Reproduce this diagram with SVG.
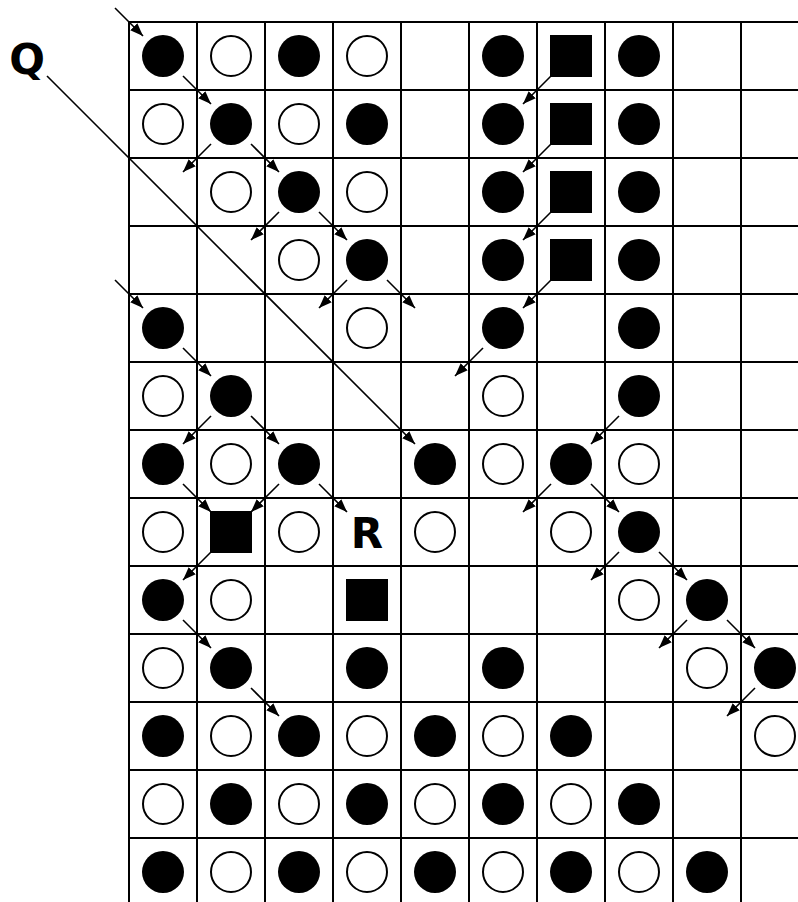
<svg xmlns="http://www.w3.org/2000/svg" width="798" height="902" viewBox="0 0 798 902">
<style>
.grid line{stroke:#000;stroke-width:2}
.f{fill:#000}
.o{fill:#fff;stroke:#000;stroke-width:2}
.sq{fill:#000}
.lbl{font-family:"DejaVu Sans","Liberation Sans",sans-serif;font-weight:bold;font-size:42px;fill:#000;text-anchor:middle}
.conn line{stroke:#000;stroke-width:1.6;marker-end:url(#ah)}
</style>
<defs>
<marker id="ah" viewBox="0 0 13 10" refX="13" refY="5" markerWidth="13" markerHeight="10" markerUnits="userSpaceOnUse" orient="auto">
<path d="M0,0 L13,5 L0,10 z" fill="#000"/>
</marker>
</defs>
<rect width="798" height="902" fill="#fff"/>
<g id="grid" class="grid">
<line x1="129" y1="22" x2="129" y2="902"/>
<line x1="197" y1="22" x2="197" y2="902"/>
<line x1="265" y1="22" x2="265" y2="902"/>
<line x1="333" y1="22" x2="333" y2="902"/>
<line x1="401" y1="22" x2="401" y2="902"/>
<line x1="469" y1="22" x2="469" y2="902"/>
<line x1="537" y1="22" x2="537" y2="902"/>
<line x1="605" y1="22" x2="605" y2="902"/>
<line x1="673" y1="22" x2="673" y2="902"/>
<line x1="741" y1="22" x2="741" y2="902"/>
<line x1="128" y1="22" x2="798" y2="22"/>
<line x1="128" y1="90" x2="798" y2="90"/>
<line x1="128" y1="158" x2="798" y2="158"/>
<line x1="128" y1="226" x2="798" y2="226"/>
<line x1="128" y1="294" x2="798" y2="294"/>
<line x1="128" y1="362" x2="798" y2="362"/>
<line x1="128" y1="430" x2="798" y2="430"/>
<line x1="128" y1="498" x2="798" y2="498"/>
<line x1="128" y1="566" x2="798" y2="566"/>
<line x1="128" y1="634" x2="798" y2="634"/>
<line x1="128" y1="702" x2="798" y2="702"/>
<line x1="128" y1="770" x2="798" y2="770"/>
<line x1="128" y1="838" x2="798" y2="838"/>
</g>
<!-- row 0 -->
<g id="r0c0"><circle class="f" cx="163" cy="56" r="21"/></g>
<g id="r0c1"><circle class="o" cx="231" cy="56" r="20"/></g>
<g id="r0c2"><circle class="f" cx="299" cy="56" r="21"/></g>
<g id="r0c3"><circle class="o" cx="367" cy="56" r="20"/></g>
<g id="r0c5"><circle class="f" cx="503" cy="56" r="21"/></g>
<g id="r0c6"><rect class="sq" x="550" y="35" width="42" height="42"/></g>
<g id="r0c7"><circle class="f" cx="639" cy="56" r="21"/></g>
<!-- row 1 -->
<g id="r1c0"><circle class="o" cx="163" cy="124" r="20"/></g>
<g id="r1c1"><circle class="f" cx="231" cy="124" r="21"/></g>
<g id="r1c2"><circle class="o" cx="299" cy="124" r="20"/></g>
<g id="r1c3"><circle class="f" cx="367" cy="124" r="21"/></g>
<g id="r1c5"><circle class="f" cx="503" cy="124" r="21"/></g>
<g id="r1c6"><rect class="sq" x="550" y="103" width="42" height="42"/></g>
<g id="r1c7"><circle class="f" cx="639" cy="124" r="21"/></g>
<!-- row 2 -->
<g id="r2c1"><circle class="o" cx="231" cy="192" r="20"/></g>
<g id="r2c2"><circle class="f" cx="299" cy="192" r="21"/></g>
<g id="r2c3"><circle class="o" cx="367" cy="192" r="20"/></g>
<g id="r2c5"><circle class="f" cx="503" cy="192" r="21"/></g>
<g id="r2c6"><rect class="sq" x="550" y="171" width="42" height="42"/></g>
<g id="r2c7"><circle class="f" cx="639" cy="192" r="21"/></g>
<!-- row 3 -->
<g id="r3c2"><circle class="o" cx="299" cy="260" r="20"/></g>
<g id="r3c3"><circle class="f" cx="367" cy="260" r="21"/></g>
<g id="r3c5"><circle class="f" cx="503" cy="260" r="21"/></g>
<g id="r3c6"><rect class="sq" x="550" y="239" width="42" height="42"/></g>
<g id="r3c7"><circle class="f" cx="639" cy="260" r="21"/></g>
<!-- row 4 -->
<g id="r4c0"><circle class="f" cx="163" cy="328" r="21"/></g>
<g id="r4c3"><circle class="o" cx="367" cy="328" r="20"/></g>
<g id="r4c5"><circle class="f" cx="503" cy="328" r="21"/></g>
<g id="r4c7"><circle class="f" cx="639" cy="328" r="21"/></g>
<!-- row 5 -->
<g id="r5c0"><circle class="o" cx="163" cy="396" r="20"/></g>
<g id="r5c1"><circle class="f" cx="231" cy="396" r="21"/></g>
<g id="r5c5"><circle class="o" cx="503" cy="396" r="20"/></g>
<g id="r5c7"><circle class="f" cx="639" cy="396" r="21"/></g>
<!-- row 6 -->
<g id="r6c0"><circle class="f" cx="163" cy="464" r="21"/></g>
<g id="r6c1"><circle class="o" cx="231" cy="464" r="20"/></g>
<g id="r6c2"><circle class="f" cx="299" cy="464" r="21"/></g>
<g id="r6c4"><circle class="f" cx="435" cy="464" r="21"/></g>
<g id="r6c5"><circle class="o" cx="503" cy="464" r="20"/></g>
<g id="r6c6"><circle class="f" cx="571" cy="464" r="21"/></g>
<g id="r6c7"><circle class="o" cx="639" cy="464" r="20"/></g>
<!-- row 7 -->
<g id="r7c0"><circle class="o" cx="163" cy="532" r="20"/></g>
<g id="r7c1"><rect class="sq" x="210" y="511" width="42" height="42"/></g>
<g id="r7c2"><circle class="o" cx="299" cy="532" r="20"/></g>
<g id="r7c3"><text class="lbl" x="367" y="548">R</text></g>
<g id="r7c4"><circle class="o" cx="435" cy="532" r="20"/></g>
<g id="r7c6"><circle class="o" cx="571" cy="532" r="20"/></g>
<g id="r7c7"><circle class="f" cx="639" cy="532" r="21"/></g>
<!-- row 8 -->
<g id="r8c0"><circle class="f" cx="163" cy="600" r="21"/></g>
<g id="r8c1"><circle class="o" cx="231" cy="600" r="20"/></g>
<g id="r8c3"><rect class="sq" x="346" y="579" width="42" height="42"/></g>
<g id="r8c7"><circle class="o" cx="639" cy="600" r="20"/></g>
<g id="r8c8"><circle class="f" cx="707" cy="600" r="21"/></g>
<!-- row 9 -->
<g id="r9c0"><circle class="o" cx="163" cy="668" r="20"/></g>
<g id="r9c1"><circle class="f" cx="231" cy="668" r="21"/></g>
<g id="r9c3"><circle class="f" cx="367" cy="668" r="21"/></g>
<g id="r9c5"><circle class="f" cx="503" cy="668" r="21"/></g>
<g id="r9c8"><circle class="o" cx="707" cy="668" r="20"/></g>
<g id="r9c9"><circle class="f" cx="775" cy="668" r="21"/></g>
<!-- row 10 -->
<g id="r10c0"><circle class="f" cx="163" cy="736" r="21"/></g>
<g id="r10c1"><circle class="o" cx="231" cy="736" r="20"/></g>
<g id="r10c2"><circle class="f" cx="299" cy="736" r="21"/></g>
<g id="r10c3"><circle class="o" cx="367" cy="736" r="20"/></g>
<g id="r10c4"><circle class="f" cx="435" cy="736" r="21"/></g>
<g id="r10c5"><circle class="o" cx="503" cy="736" r="20"/></g>
<g id="r10c6"><circle class="f" cx="571" cy="736" r="21"/></g>
<g id="r10c9"><circle class="o" cx="775" cy="736" r="20"/></g>
<!-- row 11 -->
<g id="r11c0"><circle class="o" cx="163" cy="804" r="20"/></g>
<g id="r11c1"><circle class="f" cx="231" cy="804" r="21"/></g>
<g id="r11c2"><circle class="o" cx="299" cy="804" r="20"/></g>
<g id="r11c3"><circle class="f" cx="367" cy="804" r="21"/></g>
<g id="r11c4"><circle class="o" cx="435" cy="804" r="20"/></g>
<g id="r11c5"><circle class="f" cx="503" cy="804" r="21"/></g>
<g id="r11c6"><circle class="o" cx="571" cy="804" r="20"/></g>
<g id="r11c7"><circle class="f" cx="639" cy="804" r="21"/></g>
<!-- row 12 -->
<g id="r12c0"><circle class="f" cx="163" cy="872" r="21"/></g>
<g id="r12c1"><circle class="o" cx="231" cy="872" r="20"/></g>
<g id="r12c2"><circle class="f" cx="299" cy="872" r="21"/></g>
<g id="r12c3"><circle class="o" cx="367" cy="872" r="20"/></g>
<g id="r12c4"><circle class="f" cx="435" cy="872" r="21"/></g>
<g id="r12c5"><circle class="o" cx="503" cy="872" r="20"/></g>
<g id="r12c6"><circle class="f" cx="571" cy="872" r="21"/></g>
<g id="r12c7"><circle class="o" cx="639" cy="872" r="20"/></g>
<g id="r12c8"><circle class="f" cx="707" cy="872" r="21"/></g>
<g id="labelQ"><text class="lbl" x="27" y="74">Q</text></g>
<g id="connectors" class="conn">
<line x1="47" y1="76" x2="415" y2="444"/>
<line x1="115" y1="8" x2="143" y2="36"/>
<line x1="183" y1="76" x2="211" y2="104"/>
<line x1="251" y1="144" x2="279" y2="172"/>
<line x1="319" y1="212" x2="347" y2="240"/>
<line x1="387" y1="280" x2="415" y2="308"/>
<line x1="115" y1="280" x2="143" y2="308"/>
<line x1="183" y1="348" x2="211" y2="376"/>
<line x1="251" y1="416" x2="279" y2="444"/>
<line x1="183" y1="484" x2="211" y2="512"/>
<line x1="319" y1="484" x2="347" y2="512"/>
<line x1="591" y1="484" x2="619" y2="512"/>
<line x1="659" y1="552" x2="687" y2="580"/>
<line x1="183" y1="620" x2="211" y2="648"/>
<line x1="727" y1="620" x2="755" y2="648"/>
<line x1="251" y1="688" x2="279" y2="716"/>
<line x1="211" y1="144" x2="183" y2="172"/>
<line x1="279" y1="212" x2="251" y2="240"/>
<line x1="347" y1="280" x2="319" y2="308"/>
<line x1="551" y1="76" x2="523" y2="104"/>
<line x1="551" y1="144" x2="523" y2="172"/>
<line x1="551" y1="212" x2="523" y2="240"/>
<line x1="551" y1="280" x2="523" y2="308"/>
<line x1="483" y1="348" x2="455" y2="376"/>
<line x1="211" y1="416" x2="183" y2="444"/>
<line x1="619" y1="416" x2="591" y2="444"/>
<line x1="279" y1="484" x2="251" y2="512"/>
<line x1="551" y1="484" x2="523" y2="512"/>
<line x1="211" y1="552" x2="183" y2="580"/>
<line x1="619" y1="552" x2="591" y2="580"/>
<line x1="687" y1="620" x2="659" y2="648"/>
<line x1="755" y1="688" x2="727" y2="716"/>
</g>
</svg>
